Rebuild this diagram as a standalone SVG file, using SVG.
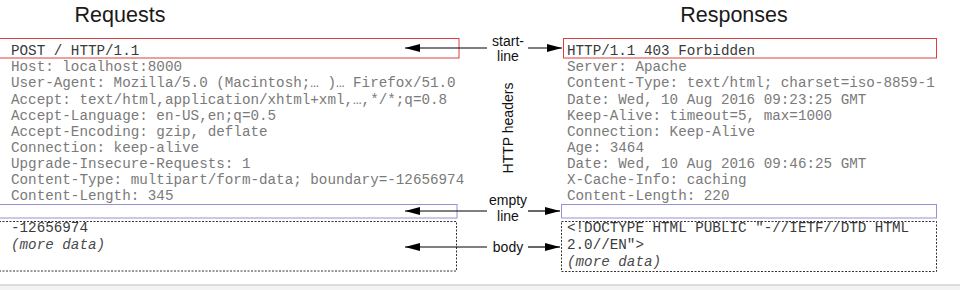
<svg xmlns="http://www.w3.org/2000/svg" width="960" height="290" viewBox="0 0 960 290">
<defs>
<marker id="ah" markerUnits="userSpaceOnUse" markerWidth="16" markerHeight="9" refX="15" refY="4" orient="auto">
<path d="M0,0 L15,4 L0,8 z" fill="#000"/>
</marker>
<style>
.title{font-family:"Liberation Sans",Arial,sans-serif;font-size:21.5px;fill:#1a1a1a;text-anchor:middle}
.lbl{font-family:"Liberation Sans",Arial,sans-serif;font-size:14px;fill:#111;text-anchor:middle}
.mono{font-family:"Liberation Mono","Courier New",monospace;font-size:14.25px;fill:#7a7a7a}
.dark{fill:#3a3a3a}
.it{font-style:italic;fill:#4a4a4a}
.start{fill:none;stroke:#d9403f;stroke-width:1}
.empty{fill:none;stroke:#9a90d4;stroke-width:1}
.body{fill:none;stroke:#333;stroke-width:1;stroke-dasharray:2,1.5}
.conn{stroke:#000;stroke-width:1.2;marker-end:url(#ah)}
</style>
</defs>
<rect x="0" y="0" width="960" height="290" fill="#fff"/>
<rect x="0" y="284" width="960" height="2" fill="#dcdcdc"/>
<rect x="0" y="286" width="960" height="4" fill="#f3f3f3"/>

<g id="title-requests"><text class="title" x="120" y="22">Requests</text></g>
<g id="title-responses"><text class="title" x="734" y="22">Responses</text></g>

<g id="req-start">
<rect class="start" x="-1" y="38.5" width="460" height="19.5"/>
<text class="mono dark" x="11" y="55">POST / HTTP/1.1</text>
</g>
<g id="req-headers">
<text class="mono" x="11" y="71">Host: localhost:8000</text>
<text class="mono" x="11" y="87">User-Agent: Mozilla/5.0 (Macintosh;… )… Firefox/51.0</text>
<text class="mono" x="11" y="103.5">Accept: text/html,application/xhtml+xml,…,*/*;q=0.8</text>
<text class="mono" x="11" y="119.5">Accept-Language: en-US,en;q=0.5</text>
<text class="mono" x="11" y="135.5">Accept-Encoding: gzip, deflate</text>
<text class="mono" x="11" y="152">Connection: keep-alive</text>
<text class="mono" x="11" y="168">Upgrade-Insecure-Requests: 1</text>
<text class="mono" x="11" y="184">Content-Type: multipart/form-data; boundary=-12656974</text>
<text class="mono" x="11" y="200">Content-Length: 345</text>
</g>
<g id="req-empty"><rect class="empty" x="-1" y="204.5" width="458" height="13.5"/></g>
<g id="req-body">
<rect class="body" x="-1" y="221.5" width="457.5" height="49.5"/>
<text class="mono dark" x="11" y="232">-12656974</text>
<text class="mono it" x="11" y="248.5">(more data)</text>
</g>

<g id="res-start">
<rect class="start" x="563.5" y="38.5" width="373" height="19.5"/>
<text class="mono dark" x="567" y="55">HTTP/1.1 403 Forbidden</text>
</g>
<g id="res-headers">
<text class="mono" x="567" y="71">Server: Apache</text>
<text class="mono" x="567" y="87">Content-Type: text/html; charset=iso-8859-1</text>
<text class="mono" x="567" y="103.5">Date: Wed, 10 Aug 2016 09:23:25 GMT</text>
<text class="mono" x="567" y="119.5">Keep-Alive: timeout=5, max=1000</text>
<text class="mono" x="567" y="135.5">Connection: Keep-Alive</text>
<text class="mono" x="567" y="152">Age: 3464</text>
<text class="mono" x="567" y="168">Date: Wed, 10 Aug 2016 09:46:25 GMT</text>
<text class="mono" x="567" y="184">X-Cache-Info: caching</text>
<text class="mono" x="567" y="200">Content-Length: 220</text>
</g>
<g id="res-empty"><rect class="empty" x="561.5" y="204.5" width="375" height="13.5"/></g>
<g id="res-body">
<rect class="body" x="561.5" y="221.5" width="375" height="50"/>
<text class="mono dark" x="567" y="232">&lt;!DOCTYPE HTML PUBLIC "-//IETF//DTD HTML</text>
<text class="mono dark" x="567" y="249">2.0//EN"&gt;</text>
<text class="mono it" x="567" y="266">(more data)</text>
</g>

<g id="label-start-line">
<text class="lbl" x="508" y="46">start-</text>
<text class="lbl" x="508" y="61">line</text>
</g>
<g id="label-http-headers">
<text class="lbl" transform="translate(513,128) rotate(-90)">HTTP headers</text>
</g>
<g id="label-empty-line">
<text class="lbl" x="508" y="205">empty</text>
<text class="lbl" x="508" y="221">line</text>
</g>
<g id="label-body">
<text class="lbl" x="508" y="252">body</text>
</g>

<g id="connectors">
<line class="conn" x1="487" y1="48" x2="405" y2="48"/>
<line class="conn" x1="528" y1="48" x2="562" y2="48"/>
<line class="conn" x1="487" y1="211" x2="405" y2="211"/>
<line class="conn" x1="528" y1="211" x2="560" y2="211"/>
<line class="conn" x1="487" y1="247" x2="405" y2="247"/>
<line class="conn" x1="528" y1="247" x2="560" y2="247"/>
</g>
</svg>
